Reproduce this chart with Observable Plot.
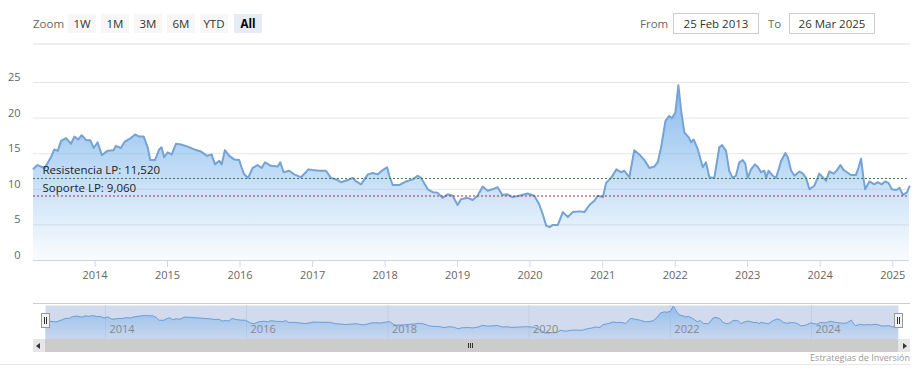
<!DOCTYPE html>
<html>
<head>
<meta charset="utf-8">
<script src="https://cdn.jsdelivr.net/npm/d3@7"></script>
<script src="https://cdn.jsdelivr.net/npm/@observablehq/plot@0.6"></script>
<style>
  html, body { margin: 0; padding: 0; background: #fff; }
  #wrap { position: relative; width: 920px; height: 382px; overflow: hidden; font-family: "Open Sans", sans-serif; }
  .abs { position: absolute; }
  .btn { position: absolute; top: 14px; height: 19px; line-height: 19px; text-align: center; font-size: 11.5px; color: #333; background: #f7f7f7; }
  .btn.sel { background: #e6ebf5; font-weight: bold; color: #000; }
  .lbl { position: absolute; top: 14px; height: 19px; line-height: 19px; font-size: 11.5px; color: #666; }
  .inp { position: absolute; top: 13px; height: 19px; line-height: 19px; font-size: 11.5px; color: #333; border: 1px solid #cccccc; text-align: center; box-sizing: content-box; }
  .handle { position: absolute; width: 7px; height: 13px; background: #f2f2f2; border: 1px solid #999; }
  .handle i { position: absolute; top: 3px; width: 1px; height: 7px; background: #333; }
</style>
</head>
<body>
<div id="wrap">
  <div class="lbl" style="left:33px">Zoom</div>
  <div class="btn" style="left:68px;width:28px">1W</div>
  <div class="btn" style="left:101px;width:28px">1M</div>
  <div class="btn" style="left:134px;width:28px">3M</div>
  <div class="btn" style="left:167px;width:28px">6M</div>
  <div class="btn" style="left:200px;width:28px">YTD</div>
  <div class="btn sel" style="left:234px;width:28px">All</div>
  <div class="lbl" style="left:640px">From</div>
  <div class="inp" style="left:673px;width:84px" id="fromBox"></div>
  <div class="lbl" style="left:768px">To</div>
  <div class="inp" style="left:789px;width:84px" id="toBox"></div>
  <div class="abs" style="left:33px;top:43px;width:877px;height:2px;background:#efefef"></div>

  <div class="abs" id="main" style="left:0;top:60px"></div>

  <div class="abs" style="left:33px;top:303px;width:877px;height:36px;border-top:1px solid #cccccc;box-sizing:border-box"></div>
  <div class="abs" id="nav" style="left:0;top:303px"></div>
  <div class="handle" style="left:41px;top:313px"><i style="left:2px"></i><i style="left:4px"></i></div>
  <div class="handle" style="left:894px;top:313px"><i style="left:2px"></i><i style="left:4px"></i></div>

  <div class="abs" style="left:33px;top:339px;width:877px;height:13px;background:#f2f2f2"></div>
  <div class="abs" style="left:45px;top:339px;width:853px;height:13px;background:#cccccc"></div>
  <div class="abs" style="left:33px;top:339px;width:12px;height:13px;background:#e6e6e6">
    <div class="abs" style="left:3px;top:4px;width:0;height:0;border-top:3px solid transparent;border-bottom:3px solid transparent;border-right:4px solid #333"></div>
  </div>
  <div class="abs" style="left:898px;top:339px;width:12px;height:13px;background:#e6e6e6">
    <div class="abs" style="left:5px;top:4px;width:0;height:0;border-top:3px solid transparent;border-bottom:3px solid transparent;border-left:4px solid #333"></div>
  </div>
  <div class="abs" style="left:468px;top:343px;width:1px;height:5px;background:#333"></div>
  <div class="abs" style="left:470px;top:343px;width:1px;height:5px;background:#333"></div>
  <div class="abs" style="left:472px;top:343px;width:1px;height:5px;background:#333"></div>

  <div class="abs" id="credit" style="right:10px;top:351px;font-size:9px;color:#999"></div>
  <div class="abs" style="left:0;top:364px;width:910px;height:1px;background:#e8e8e8"></div>
</div>
<script>
// ---- data ----
const startDate = "2013-02-25";
const endDate = "2025-03-26";
const fromLabel = "25 Feb 2013";
const toLabel = "26 Mar 2025";
const creditText = "Estrategias de Inversión";

const dates = [
"2013-02-25","2013-03-17","2013-04-12","2013-04-20","2013-05-24","2013-06-10","2013-06-27","2013-07-14","2013-08-08","2013-09-02",
"2013-09-19","2013-10-09","2013-10-26","2013-11-17","2013-12-08","2013-12-25","2014-01-14","2014-02-04","2014-03-05","2014-04-04",
"2014-04-16","2014-05-11","2014-05-31","2014-06-30","2014-07-22","2014-08-11","2014-09-03","2014-09-23","2014-10-06","2014-10-30",
"2014-11-20","2014-12-02","2014-12-15","2015-01-02","2015-01-22","2015-02-13","2015-03-10","2015-04-13","2015-05-16","2015-06-19",
"2015-07-19","2015-08-11","2015-08-28","2015-09-19","2015-10-01","2015-10-17","2015-11-08","2015-12-03","2015-12-28","2016-01-09",
"2016-01-22","2016-02-11","2016-03-05","2016-03-30","2016-04-19","2016-05-06","2016-06-05","2016-07-09","2016-07-22","2016-08-08",
"2016-09-05","2016-09-30","2016-11-03","2016-11-28","2016-12-10","2017-01-01","2017-02-04","2017-03-09","2017-04-03","2017-05-07",
"2017-05-24","2017-06-27","2017-07-22","2017-08-08","2017-09-02","2017-10-06","2017-10-31","2017-11-25","2017-12-20","2018-01-11",
"2018-01-22","2018-02-08","2018-03-13","2018-04-16","2018-05-20","2018-06-14","2018-07-01","2018-08-04","2018-08-29","2018-09-23",
"2018-10-18","2018-11-12","2018-12-07","2019-01-01","2019-01-18","2019-02-21","2019-03-18","2019-04-12","2019-05-07","2019-06-01",
"2019-06-26","2019-07-21","2019-08-15","2019-09-09","2019-10-04","2019-11-07","2019-12-19","2020-01-22","2020-02-16","2020-03-05",
"2020-03-22","2020-04-08","2020-04-25","2020-05-20","2020-06-14","2020-07-09","2020-08-03","2020-09-06","2020-10-01","2020-10-26",
"2020-11-20","2020-12-07","2021-01-02","2021-01-18","2021-02-12","2021-03-11","2021-04-03","2021-04-20","2021-05-15","2021-06-09",
"2021-07-04","2021-07-30","2021-08-24","2021-09-18","2021-10-05","2021-10-22","2021-11-13","2021-12-02","2021-12-16","2022-01-02",
"2022-01-17","2022-01-31","2022-02-16","2022-03-10","2022-03-22","2022-04-04","2022-04-25","2022-05-20","2022-06-05","2022-06-22",
"2022-07-17","2022-08-11","2022-08-25","2022-09-14","2022-09-30","2022-10-17","2022-11-03","2022-11-20","2022-12-07","2022-12-20",
"2023-01-01","2023-01-18","2023-02-07","2023-02-22","2023-03-09","2023-03-26","2023-04-04","2023-04-16","2023-05-08","2023-05-24",
"2023-06-19","2023-07-10","2023-07-22","2023-08-08","2023-08-25","2023-09-19","2023-10-06","2023-10-22","2023-11-08","2023-12-03",
"2023-12-28","2024-01-31","2024-02-16","2024-03-09","2024-03-26","2024-04-12","2024-04-29","2024-05-15","2024-06-04","2024-06-29",
"2024-07-13","2024-07-25","2024-08-07","2024-08-15","2024-09-05","2024-09-30","2024-10-17","2024-11-06","2024-11-23","2024-12-10",
"2024-12-27","2025-01-18","2025-02-04","2025-02-21","2025-03-14","2025-03-26"
];
const values = [
12.9,13.4,13.1,12.9,14.5,15.6,15.4,16.8,17.2,16.4,
17.4,17.0,17.6,16.9,16.9,15.8,16.6,14.8,15.4,15.5,
16.1,15.8,16.7,17.2,17.7,17.4,17.4,15.9,14.1,14.1,
15.6,15.9,14.5,15.2,14.9,16.4,16.3,16.0,15.6,15.3,
14.7,14.9,13.5,14.0,13.5,15.5,14.7,14.2,14.1,13.1,
12.1,11.6,13.0,13.4,13.0,13.8,13.3,13.2,13.8,12.4,
12.6,12.1,11.7,12.4,12.8,12.7,12.6,12.6,11.6,11.3,
11.0,11.3,11.6,11.1,10.7,12.1,12.3,12.1,12.7,13.1,
11.9,10.6,10.6,11.1,11.4,11.9,11.6,10.0,9.6,9.5,
8.8,9.3,9.1,7.8,8.6,8.8,8.5,9.1,10.4,9.8,
10.0,10.3,9.2,9.3,8.9,9.1,9.4,9.1,7.9,6.5,
4.9,4.7,5.0,5.0,6.8,6.1,6.8,6.9,6.8,7.8,
8.4,9.1,8.9,10.9,11.6,12.8,12.4,12.6,11.7,15.5,
14.9,14.1,13.0,13.2,13.8,15.9,19.6,20.3,20.0,20.8,
24.6,21.0,18.0,17.3,16.6,17.0,15.6,13.1,13.8,11.7,
11.6,15.9,16.2,15.4,12.6,11.6,11.9,13.8,14.1,13.6,
11.6,12.8,13.5,13.1,12.4,12.6,11.6,12.6,11.9,11.6,
14.0,15.1,14.5,12.6,11.9,12.5,12.2,11.6,10.0,10.5,
12.2,11.2,12.5,12.2,12.7,13.4,12.7,12.4,12.0,12.0,
13.1,14.3,11.4,10.0,11.1,10.7,11.0,10.7,11.1,10.9,
10.0,9.9,10.2,9.2,9.6,10.4
];

const yTicks = [0, 5, 10, 15, 20, 25];
const xTickYears = [2014,2015,2016,2017,2018,2019,2020,2021,2022,2023,2024,2025];
const navTickYears = [2014,2016,2018,2020,2022,2024];

const levelNames = ["Resistencia LP", "Soporte LP"];
const levelValues = [11.52, 9.06];
const levelLabels = ["11,520", "9,060"];
const levelColors = ["#3a7d4e", "#a0304a"];

// ---- derived ----
const data = dates.map((d, i) => ({date: new Date(d), value: values[i]}));
const levels = levelNames.map((n, i) => ({name: n, value: levelValues[i], text: `${n}: ${levelLabels[i]}`, color: levelColors[i]}));
const yearDate = y => new Date(Date.UTC(y, 0, 1));
const xDomain = [new Date(startDate), new Date(endDate)];

document.getElementById("fromBox").textContent = fromLabel;
document.getElementById("toBox").textContent = toLabel;
document.getElementById("credit").textContent = creditText;

function gradient(id, top, bottom) {
  return () => {
    const defs = d3.create("svg:defs");
    const g = defs.append("linearGradient").attr("id", id).attr("x1", 0).attr("y1", 0).attr("x2", 0).attr("y2", 1);
    g.append("stop").attr("offset", "0%").attr("stop-color", "#7cb5ec").attr("stop-opacity", top);
    g.append("stop").attr("offset", "100%").attr("stop-color", "#7cb5ec").attr("stop-opacity", bottom);
    return defs.node();
  };
}

const main = Plot.plot({
  width: 920, height: 230,
  marginLeft: 33, marginRight: 11, marginTop: 22, marginBottom: 30,
  x: {type: "utc", domain: xDomain},
  y: {domain: [0, 25]},
  style: {fontFamily: "'Open Sans', sans-serif", fontSize: "11px", background: "transparent", overflow: "visible"},
  marks: [
    gradient("areaGrad", 0.9, 0.04),
    Plot.ruleY(yTicks.filter(d => d > 0), {stroke: "#e6e6e6"}),
    Plot.areaY(data, {x: "date", y: "value", fill: "url(#areaGrad)"}),
    Plot.lineY(data, {x: "date", y: "value", stroke: "#75a3d6", strokeWidth: 2}),
    Plot.ruleY(levels, {y: "value", stroke: "color", strokeDasharray: "2,2", strokeWidth: 1}),
    Plot.text(levels, {y: "value", text: "text", frameAnchor: "left", textAnchor: "start", dx: 9, dy: -8, fill: "#222", fontSize: 11.5}),
    Plot.ruleY([0], {stroke: "#ccd6eb"}),
    Plot.axisX({ticks: xTickYears.map(yearDate), tickFormat: d3.utcFormat("%Y"), tickSize: 7, tickPadding: 4, stroke: "#ccd6eb", fill: "#666", fontSize: 11, label: null}),
    Plot.axisY({ticks: yTicks, tickSize: 0, tickPadding: 13, dy: -5, fill: "#666", fontSize: 11, label: null})
  ]
});
document.getElementById("main").appendChild(main);

const nav = Plot.plot({
  width: 920, height: 36,
  marginLeft: 45, marginRight: 22, marginTop: 2, marginBottom: 0,
  x: {type: "utc", domain: xDomain, axis: null},
  y: {domain: [0, 25], axis: null},
  style: {fontFamily: "'Open Sans', sans-serif", fontSize: "11px", background: "transparent", overflow: "visible"},
  marks: [
    gradient("navGrad", 0.75, 0.1),
    Plot.frame({fill: "#d2dbee", stroke: null}),
    Plot.ruleX(navTickYears.map(yearDate), {stroke: "#c5cee0"}),
    Plot.areaY(data, {x: "date", y: "value", fill: "url(#navGrad)"}),
    Plot.lineY(data, {x: "date", y: "value", stroke: "#6f9fd8", strokeWidth: 1}),
    Plot.text(navTickYears, {x: d => yearDate(d), text: d => String(d), frameAnchor: "bottom", textAnchor: "start", dx: 4, dy: -7, fill: "#888", fontSize: 11})
  ]
});
document.getElementById("nav").appendChild(nav);
</script>
</body>
</html>
